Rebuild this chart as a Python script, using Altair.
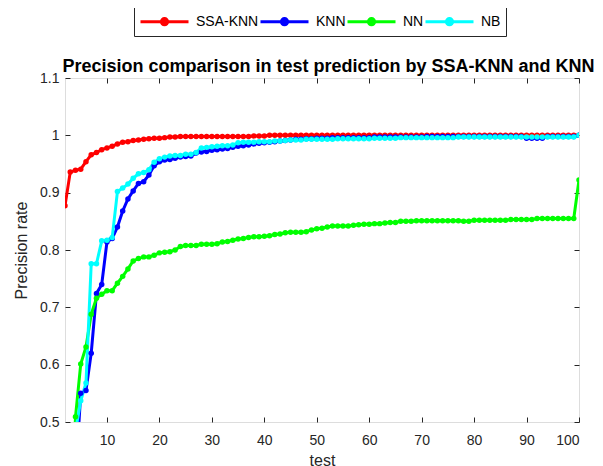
import altair as alt
import pandas as pd

# ---------------- data ----------------
x_vals = list(range(2, 101))

ssa_knn = [0.877, 0.936, 0.939, 0.941, 0.954, 0.966, 0.970, 0.975, 0.978, 0.981,
           0.985, 0.988, 0.989, 0.991, 0.992, 0.993, 0.994, 0.995, 0.995, 0.996,
           0.997, 0.997, 0.998, 0.998, 0.998, 0.998, 0.998, 0.998, 0.998, 0.998,
           0.998, 0.998, 0.998, 0.998, 0.998, 0.998, 0.999, 0.999, 0.999, 1.000,
           1.000, 1.000, 1.000, 1.000, 1.000, 1.000, 1.000, 1.000, 1.000, 1.000,
           1.000, 1.000, 1.000, 1.000, 1.000, 1.000, 1.000, 1.000, 1.000, 1.000,
           1.000, 1.000, 1.000, 1.000, 1.000, 1.000, 1.000, 1.000, 1.000, 1.000,
           1.000, 1.000, 1.000, 1.000, 1.000, 1.000, 1.000, 1.000, 1.000, 1.000,
           1.000, 1.000, 1.000, 1.000, 1.000, 1.000, 1.000, 1.000, 1.000, 1.000,
           1.000, 1.000, 1.000, 1.000, 1.000, 1.000, 1.000, 1.000, 1.000]

knn = [0.350, 0.380, 0.400, 0.550, 0.555, 0.620, 0.724, 0.740, 0.814, 0.820,
       0.840, 0.868, 0.889, 0.903, 0.916, 0.919, 0.931, 0.947, 0.954, 0.957,
       0.958, 0.960, 0.962, 0.963, 0.964, 0.969, 0.971, 0.972, 0.974, 0.975,
       0.976, 0.977, 0.979, 0.981, 0.982, 0.983, 0.985, 0.986, 0.987, 0.988,
       0.989, 0.990, 0.991, 0.992, 0.993, 0.993, 0.994, 0.994, 0.995, 0.995,
       0.995, 0.996, 0.996, 0.996, 0.996, 0.996, 0.996, 0.996, 0.996, 0.997,
       0.997, 0.997, 0.997, 0.997, 0.997, 0.997, 0.997, 0.997, 0.997, 0.998,
       0.998, 0.998, 0.998, 0.998, 0.998, 0.998, 0.998, 0.998, 0.998, 0.998,
       0.998, 0.998, 0.998, 0.998, 0.998, 0.998, 0.998, 0.998, 0.995, 0.995,
       0.995, 0.995, 0.998, 0.998, 0.998, 0.998, 0.998, 0.998, 1.000]

nn = [0.250, 0.300, 0.509, 0.601, 0.631, 0.688, 0.716, 0.723, 0.729, 0.729,
      0.742, 0.754, 0.767, 0.781, 0.785, 0.788, 0.788, 0.791, 0.795, 0.796,
      0.797, 0.800, 0.806, 0.808, 0.808, 0.808, 0.810, 0.810, 0.810, 0.811,
      0.814, 0.815, 0.817, 0.819, 0.820, 0.822, 0.823, 0.823, 0.824, 0.825,
      0.827, 0.828, 0.830, 0.831, 0.831, 0.831, 0.832, 0.835, 0.837, 0.838,
      0.840, 0.842, 0.842, 0.842, 0.842, 0.843, 0.844, 0.845, 0.845, 0.846,
      0.846, 0.847, 0.848, 0.848, 0.850, 0.850, 0.850, 0.851, 0.851, 0.851,
      0.851, 0.851, 0.851, 0.851, 0.851, 0.851, 0.850, 0.850, 0.852, 0.852,
      0.852, 0.852, 0.852, 0.852, 0.852, 0.853, 0.853, 0.853, 0.853, 0.853,
      0.855, 0.855, 0.855, 0.855, 0.855, 0.855, 0.855, 0.855, 0.922]

nb = [0.440, 0.460, 0.484, 0.537, 0.568, 0.776, 0.776, 0.816, 0.817, 0.822,
      0.902, 0.908, 0.915, 0.925, 0.933, 0.935, 0.940, 0.953, 0.959, 0.962,
      0.964, 0.965, 0.965, 0.967, 0.967, 0.970, 0.978, 0.979, 0.980, 0.981,
      0.982, 0.982, 0.983, 0.987, 0.988, 0.988, 0.988, 0.989, 0.989, 0.989,
      0.990, 0.990, 0.991, 0.992, 0.992, 0.992, 0.993, 0.993, 0.993, 0.993,
      0.993, 0.993, 0.994, 0.994, 0.994, 0.994, 0.994, 0.994, 0.994, 0.995,
      0.995, 0.995, 0.995, 0.995, 0.996, 0.996, 0.996, 0.996, 0.996, 0.996,
      0.996, 0.996, 0.996, 0.996, 0.996, 0.997, 0.997, 0.997, 0.997, 0.997,
      0.997, 0.997, 0.997, 0.997, 0.997, 0.997, 0.997, 0.997, 0.997, 0.997,
      0.997, 0.997, 0.997, 0.997, 0.997, 0.997, 0.997, 0.997, 1.000]

series_names = ["SSA-KNN", "KNN", "NN", "NB"]
series_colors = ["#FF0000", "#0000FF", "#00FF00", "#00FFFF"]
series_widths = [3, 3, 1.5, 1.5]

x_ticks = [10, 20, 30, 40, 50, 60, 70, 80, 90, 100]
y_ticks = [0.5, 0.6, 0.7, 0.8, 0.9, 1.0, 1.1]

title_text = "Precision comparison in test prediction by SSA-KNN and KNN"

# ---------------- table ----------------
rows = []
for name, vals in zip(series_names, [ssa_knn, knn, nn, nb]):
    for xv, yv in zip(x_vals, vals):
        rows.append({"test": xv, "rate": yv, "series": name})
df = pd.DataFrame(rows)

FONT = "Liberation Sans"
INK = "#262626"

x_scale = alt.Scale(domain=[2, 100], nice=False, zero=False)
y_scale = alt.Scale(domain=[0.5, 1.1], nice=False, zero=False)

color_scale = alt.Scale(domain=series_names, range=series_colors)
width_scale = alt.Scale(domain=series_names, range=series_widths)

legend = alt.Legend(
    title=None,
    orient="none",
    direction="horizontal",
    legendX=69,
    legendY=-87,
    symbolType="M-1,0L1,0M0.13,0A0.13,0.13,0,1,1,-0.13,0A0.13,0.13,0,1,1,0.13,0",
    symbolSize=2304,
    labelFont=FONT,
    labelFontSize=14,
    labelColor="#000000",
    labelOffset=6,
    columnPadding=-8,
    padding=5,
    strokeColor=INK,
    fillColor="white",
)

x_axis = alt.Axis(values=x_ticks, title="test", orient="bottom", grid=False,
                  domain=False, tickSize=5, offset=-5, labelPadding=11,
                  labelFont=FONT, labelFontSize=14, labelColor=INK,
                  titleFont=FONT, titleFontSize=16, titleColor=INK,
                  titleFontWeight="normal", titlePadding=5, tickColor=INK)
y_axis = alt.Axis(values=y_ticks, title="Precision rate", orient="left", grid=False,
                  domain=False, tickSize=5, offset=-5, labelPadding=6, format="~g",
                  labelFont=FONT, labelFontSize=14, labelColor=INK,
                  titleFont=FONT, titleFontSize=16, titleColor=INK,
                  titleFontWeight="normal", titlePadding=10, tickColor=INK)

base = alt.Chart(df)

lines = base.mark_line(clip=True).encode(
    x=alt.X("test:Q", scale=x_scale, axis=x_axis),
    y=alt.Y("rate:Q", scale=y_scale, axis=y_axis),
    color=alt.Color("series:N", scale=color_scale, legend=legend, sort=series_names),
    strokeWidth=alt.StrokeWidth("series:N", scale=width_scale, legend=legend, sort=series_names),
)

points = base.mark_circle(clip=True, size=30, opacity=1).encode(
    x=alt.X("test:Q", scale=x_scale, axis=None),
    y=alt.Y("rate:Q", scale=y_scale, axis=None),
    color=alt.Color("series:N", scale=color_scale, legend=legend, sort=series_names),
)

# inner ticks on top and right (MATLAB box style); top axis carries the title
box_ticks = base.mark_circle(opacity=0).encode(
    x=alt.X("test:Q", scale=x_scale,
            axis=alt.Axis(values=x_ticks, orient="top", labels=False, title=title_text,
                          titleFont=FONT, titleFontSize=18, titleFontWeight="bold",
                          titleColor="#000000", titleX=263, titleY=-12,
                          titleAlign="center", titleBaseline="alphabetic",
                          grid=False, domain=False, tickSize=5, offset=-5, tickColor=INK)),
    y=alt.Y("rate:Q", scale=y_scale,
            axis=alt.Axis(values=y_ticks, orient="right", labels=False, title=None,
                          grid=False, domain=False, tickSize=5, offset=-5, tickColor=INK)),
)

chart = alt.layer(lines, points, box_ticks).resolve_axis(
    x="independent", y="independent"
).properties(
    width=514,
    height=344,
    autosize=alt.AutoSizeParams(type="none"),
    padding={"left": 57, "top": 70, "right": 16, "bottom": 44},
).configure_view(
    stroke=INK, strokeWidth=1
).configure(background="white")

chart.save("out.html", embed_options={"renderer": "svg", "actions": False})
